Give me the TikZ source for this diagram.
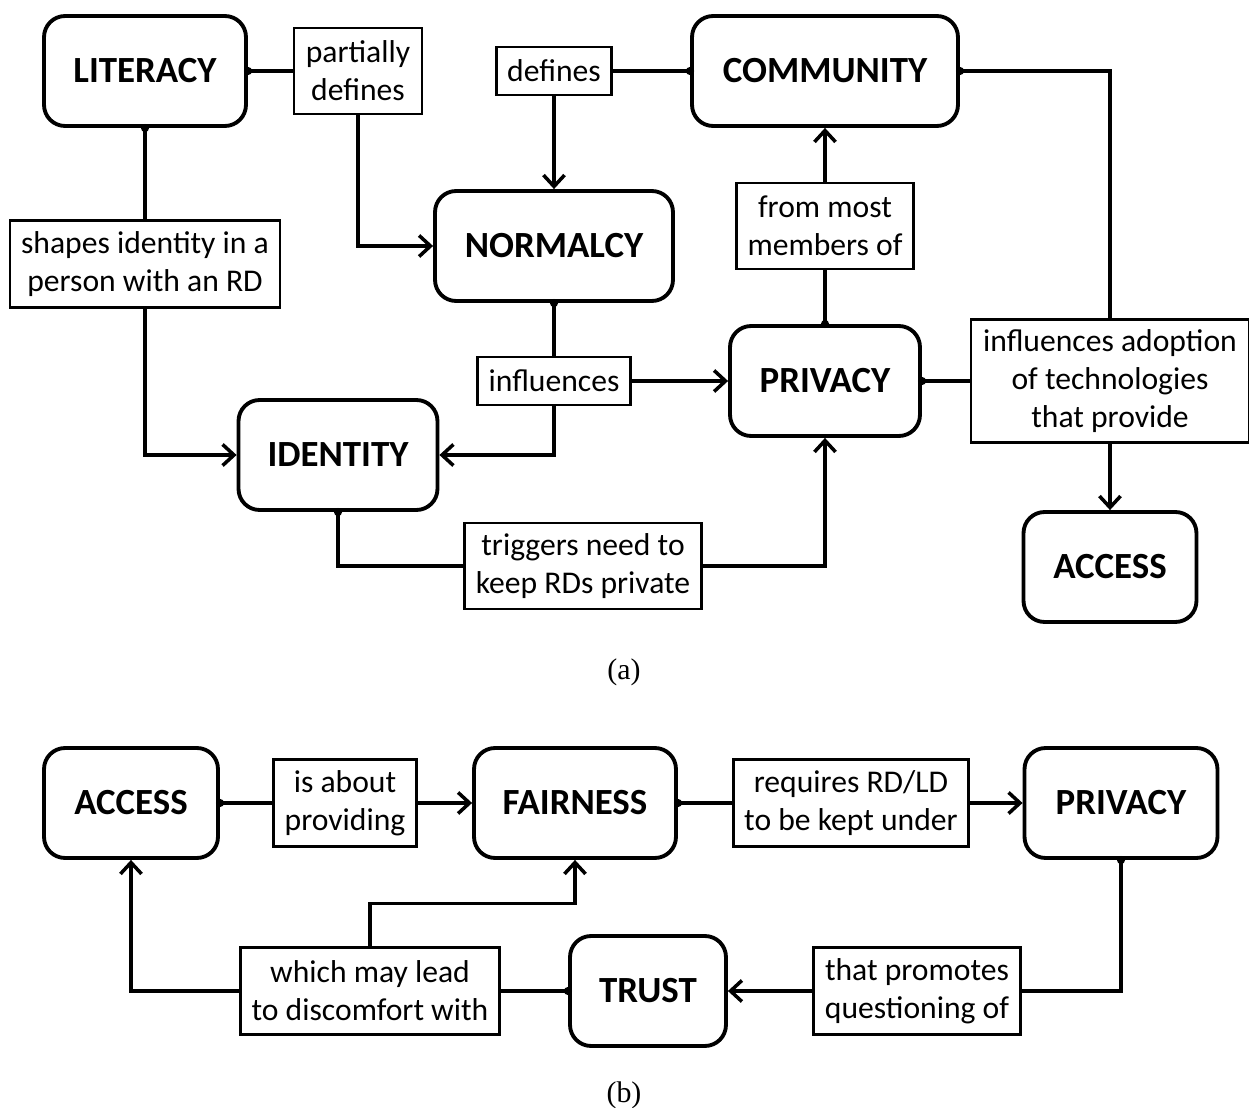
\documentclass[tikz,border=0pt]{standalone}
\usepackage{fontspec}
\setmainfont{Carlito}
\newfontfamily\capfont{Liberation Serif}
\usetikzlibrary{arrows.meta}
\tikzset{
    concept/.style={draw, rounded corners=12pt, line width=2.2pt,
    	minimum height=2.2cm, font=\bfseries\fontsize{21}{25}\selectfont},
    link/.style={draw, line width=1.2pt, align=center, inner sep=2pt,
    	font=\fontsize{18}{21.6}\selectfont},
    dot/.style={line width=2pt, {Circle[length=4.5pt]}-, shorten <=-2.2pt},
    flow/.style={line width=2pt, -{Straight Barb[length=6.5pt,width=12pt]}}
}

\begin{document}
\begin{tikzpicture}[x=0.02cm, y=-0.02cm]
  \useasboundingbox (0, 0) rectangle (1249, 1108);
  \node (literacy) [concept, minimum width=4.04cm] at (145, 71) {LITERACY};
  \node (community) [concept, minimum width=5.32cm] at (825, 71) {COMMUNITY};
  \node (normalcy) [concept, minimum width=4.76cm] at (554, 246) {NORMALCY};
  \node (privacy) [concept, minimum width=3.8cm] at (825, 381) {PRIVACY};
  \node (identity) [concept, minimum width=3.98cm] at (338, 455) {IDENTITY};
  \node (access) [concept, minimum width=3.46cm] at (1110, 567) {ACCESS};

  \node (pdefines) [link, minimum width=2.56cm, minimum height=1.72cm] at (358, 71) {partially\\defines};
  \node (defines) [link, minimum width=2.3cm, minimum height=0.96cm] at (554, 71) {defines};
  \node (shapes) [link, minimum width=5.4cm, minimum height=1.74cm] at (145, 264) {shapes identity in a\\person with an RD};
  \node (frommost) [link, minimum width=3.54cm, minimum height=1.72cm] at (825, 226) {from most\\members of};
  \node (infl) [link, minimum width=3.06cm, minimum height=0.96cm] at (554, 381) {influences};
  \node (adoption) [link, minimum width=5.56cm, minimum height=2.46cm] at (1110, 381) {influences adoption\\of technologies\\that provide};
  \node (triggers) [link, minimum width=4.74cm, minimum height=1.72cm] at (583, 566) {triggers need to\\keep RDs private};
  \node (cap_a) [font=\capfont\fontsize{17}{20}\selectfont] at (624, 672) {(a)};

  \draw [dot] (literacy.east) -- (pdefines.west);
  \draw [flow] (pdefines.south) |- (normalcy.west);
  \draw [dot] (community.west) -- (defines.east);
  \draw [flow] (defines.south) -- (normalcy.north);
  \draw [dot] (literacy.south) -- (shapes.north);
  \draw [flow] (shapes.south) |- (identity.west);
  \draw [dot] (normalcy.south) -- (infl.north);
  \draw [flow] (infl.east) -- (privacy.west);
  \draw [flow] (infl.south) |- (identity.east);
  \draw [dot] (privacy.north) -- (frommost.south);
  \draw [flow] (frommost.north) -- (community.south);
  \draw [dot] (community.east) -| (adoption.north);
  \draw [dot] (privacy.east) -- (adoption.west);
  \draw [flow] (adoption.south) -- (access.north);
  \draw [dot] (identity.south) |- (triggers.west);
  \draw [flow] (triggers.east) -| (privacy.south);

  \node (access_b) [concept, minimum width=3.48cm] at (131, 803) {ACCESS};
  \node (fairness) [concept, minimum width=4.04cm] at (575, 803) {FAIRNESS};
  \node (privacy_b) [concept, minimum width=3.86cm] at (1121, 803) {PRIVACY};
  \node (trust) [concept, minimum width=3.12cm] at (648, 991) {TRUST};

  \node (about) [link, minimum width=2.86cm, minimum height=1.74cm] at (345, 803) {is about\\providing};
  \node (requires) [link, minimum width=4.7cm, minimum height=1.74cm] at (851, 803) {requires RD/LD\\to be kept under};
  \node (discomfort) [link, minimum width=5.18cm, minimum height=1.74cm] at (370, 991) {which may lead\\to discomfort with};
  \node (promotes) [link, minimum width=4.14cm, minimum height=1.74cm] at (917, 991) {that promotes\\questioning of};
  \node (cap_b) [font=\capfont\fontsize{17}{20}\selectfont] at (624, 1095) {(b)};

  \draw [dot] (access_b.east) -- (about.west);
  \draw [flow] (about.east) -- (fairness.west);
  \draw [dot] (fairness.east) -- (requires.west);
  \draw [flow] (requires.east) -- (privacy_b.west);
  \draw [dot] (privacy_b.south) |- (promotes.east);
  \draw [flow] (promotes.west) -- (trust.east);
  \draw [dot] (trust.west) -- (discomfort.east);
  \draw [flow] (discomfort.west) -| (access_b.south);
  \draw [flow] (discomfort.north) -- ++(0, -43) -| (fairness.south);
\end{tikzpicture}
\end{document}
